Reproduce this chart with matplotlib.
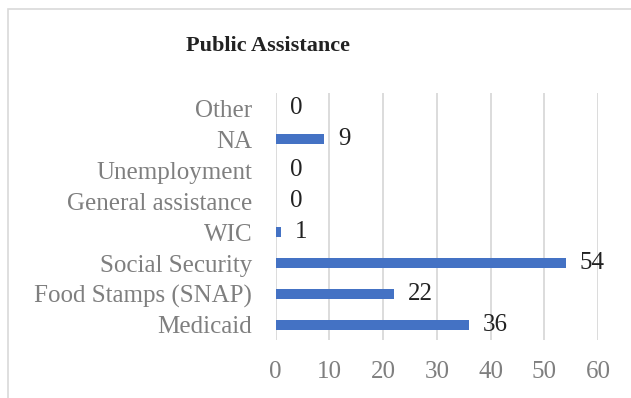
import matplotlib.pyplot as plt
from matplotlib.patches import Rectangle

# data
categories = ['Other', 'NA', 'Unemployment', 'General assistance', 'WIC',
              'Social Security', 'Food Stamps (SNAP)', 'Medicaid']
values = [0, 9, 0, 0, 1, 54, 22, 36]
xticks = [0, 10, 20, 30, 40, 50, 60]

plt.rcParams['font.family'] = ['Liberation Serif', 'DejaVu Serif']

fig = plt.figure(figsize=(6.31, 3.98), dpi=100)
ax = fig.add_axes([0.437, 0.1445, 0.511, 0.623])

# reverse so the first category is on top
ypos = list(range(len(categories)))[::-1]
ax.barh(ypos, values, height=0.33, color='#4472C4', zorder=3)

for y, v in zip(ypos, values):
    ax.annotate(str(v), (v, y), xytext=(10, 0), textcoords='offset points',
                va='center', ha='left', fontsize=18, color='#222222')

ax.set_xlim(0, 60)
ax.set_ylim(-0.5, len(categories) - 0.5)
ax.set_xticks(xticks)
ax.set_yticks(ypos)
ax.set_yticklabels(categories)
ax.tick_params(axis='both', length=0, labelsize=18, labelcolor='#7f7f7f')
ax.tick_params(axis='y', pad=17)
ax.tick_params(axis='x', pad=15)
ax.grid(axis='x', color='#d9d9d9', linewidth=1.3, zorder=0)
for s in ax.spines.values():
    s.set_visible(False)

fig.text(0.425, 0.885, 'Public Assistance', ha='center', va='center',
         fontsize=16, fontweight='bold', color='#222222')

# chart frame, only the left and top edges show in the crop
fig.patches.append(Rectangle((8 / 631, -0.1), 1.2, 1.1 - 9 / 398,
                             transform=fig.transFigure, fill=False,
                             edgecolor='#d9d9d9', linewidth=1.2))

fig.savefig('out.png', dpi=100)
